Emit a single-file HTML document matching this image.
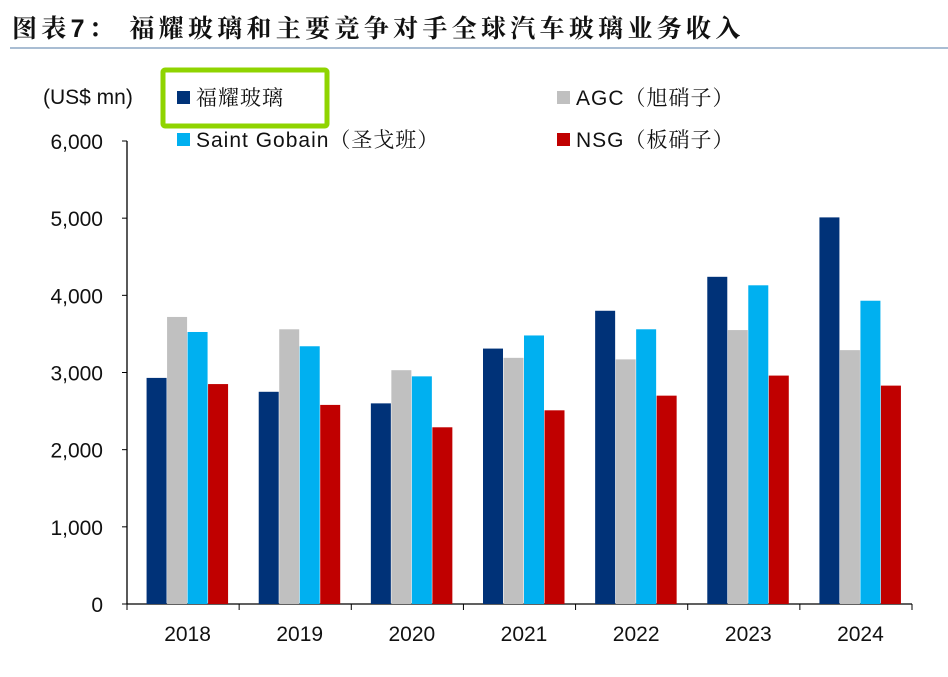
<!DOCTYPE html>
<html><head><meta charset="utf-8"><style>
body{margin:0;background:#fff;width:948px;height:672px;overflow:hidden;font-family:"Liberation Sans","Noto Sans CJK SC",sans-serif}
svg text{font-family:"Liberation Sans","Noto Serif CJK SC",sans-serif}
</style></head><body>
<svg id="c" width="948" height="672">
<text x="12" y="37" font-size="25" font-weight="bold" fill="#111" letter-spacing="4.3">图表7： 福耀玻璃和主要竞争对手全球汽车玻璃业务收入</text>
<line x1="10" y1="48" x2="948" y2="48" stroke="#a9bdd3" stroke-width="2"/>
<text x="43" y="104" font-size="21" fill="#111">(US$ mn)</text>
<rect x="163" y="70" width="164" height="56" fill="none" stroke="#8fd400" stroke-width="5" rx="2"/>
<g id="legend"></g>
<g id="axes"></g>
<g id="bars"></g>
</svg>
<script>
const categories=["2018","2019","2020","2021","2022","2023","2024"];
const fuyao=[2930,2750,2600,3310,3800,4240,5010];
const agc=[3720,3560,3030,3190,3170,3550,3290];
const saintGobain=[3525,3340,2950,3480,3560,4130,3930];
const nsg=[2850,2580,2290,2510,2700,2960,2830];
const yTicks=[0,1000,2000,3000,4000,5000,6000];
const yTickLabels=["0","1,000","2,000","3,000","4,000","5,000","6,000"];
const seriesNames=["福耀玻璃","AGC（旭硝子）","Saint Gobain（圣戈班）","NSG（板硝子）"];
const colors=["#003278","#c0c0c0","#00b0f0","#c00000"];
const NS="http://www.w3.org/2000/svg";
const x0=127,x1=912,y0=604,y6=141;
const y=v=>y0-(v/6000)*(y0-y6);
const bandW=(x1-x0)/categories.length;
const xc=i=>x0+4.5+bandW*(i+0.5);
function mk(tag,attrs,parent){const e=document.createElementNS(NS,tag);for(const k in attrs)e.setAttribute(k,attrs[k]);parent.appendChild(e);return e;}
const axes=document.getElementById('axes'),bars=document.getElementById('bars'),leg=document.getElementById('legend');
let l=mk('line',{x1:x0,y1:y6,x2:x0,y2:y0,stroke:'#000','stroke-width':1.3},axes);


l=mk('line',{x1:x0,y1:y0,x2:x1,y2:y0,stroke:'#000','stroke-width':1.3},axes);


yTicks.forEach((v,i)=>{
  const t=mk('line',{x1:x0-5,x2:x0,y1:y(v),y2:y(v),stroke:'#000'},axes);
  
  
  const tx=mk('text',{x:103,y:y(v)+8,'font-size':21,'text-anchor':'end',fill:'#111'},axes);
  tx.textContent=yTickLabels[i];
  
  
});
for(let i=0;i<=categories.length;i++){
  const t=mk('line',{x1:x0+bandW*i,x2:x0+bandW*i,y1:y0,y2:y0+6,stroke:'#000'},axes);
  
  
}
categories.forEach((c,i)=>{
  const tx=mk('text',{x:xc(i),y:641,'font-size':21,'text-anchor':'middle',fill:'#111'},axes);
  tx.textContent=c;
  
  
});
const all=[fuyao,agc,saintGobain,nsg];
const bw=20.5;
all.forEach((s,si)=>{
  s.forEach((v,i)=>{
    const bx=xc(i)-2*bw+si*bw;
    const r=mk('rect',{x:bx,y:y(v),width:bw-0.5,height:y0-y(v),fill:colors[si]},bars);
    
    
  });
});
const lp=[[177,103],[557,103],[177,145],[557,145]];
seriesNames.forEach((n,i)=>{
  const g=mk('g',{},leg);
  
  
  mk('rect',{x:lp[i][0],y:lp[i][1]-12,width:13,height:13,fill:colors[i]},g);
  const t=mk('text',{x:lp[i][0]+19,y:lp[i][1]+2,'font-size':21,fill:'#111','letter-spacing':1},g);
  t.textContent=n;
});
</script>
</body></html>
